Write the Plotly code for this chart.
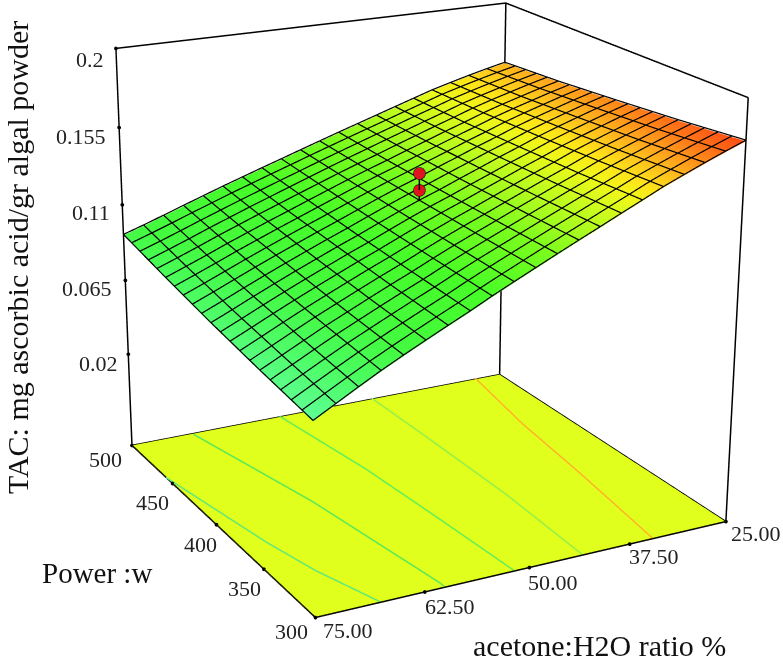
import numpy as np
import plotly.graph_objects as go

# values
acetone = [25, 27.5, 30, 32.5, 35, 37.5, 40, 42.5, 45, 47.5, 50, 52.5, 55, 57.5, 60, 62.5, 65, 67.5, 70, 72.5, 75]
power = [300, 350, 400, 450, 500]
tac_300 = [.1770, .1728, .1684, .1638, .1591, .1538, .1486, .1433, .1381, .1328, .1274, .1220, .1165, .1107, .1052, .0996, .0939, .0880, .0817, .0752, .0687]
tac_350 = [.1728, .1690, .1650, .1609, .1566, .1517, .1471, .1423, .1375, .1326, .1278, .1229, .1177, .1123, .1072, .1019, .0965, .0911, .0853, .0794, .0735]
tac_400 = [.1692, .1659, .1623, .1586, .1547, .1503, .1461, .1416, .1372, .1327, .1285, .1239, .1191, .1142, .1096, .1047, .0998, .0947, .0895, .0841, .0789]
tac_450 = [.1659, .1630, .1598, .1566, .1531, .1491, .1453, .1413, .1374, .1333, .1294, .1253, .1210, .1167, .1123, .1080, .1035, .0990, .0942, .0896, .0851]
tac_500 = [.1634, .1609, .1582, .1553, .1523, .1487, .1451, .1415, .1379, .1343, .1306, .1269, .1231, .1194, .1156, .1118, .1078, .1038, .0997, .0957, .0919]

design_tac = [.1442, .1347]
design_surface_tac = .1285

# contour lines on the floor: (acetone, power)
contour_a = [(75.1, 457), (72.1, 373), (70.4, 338), (67.7, 300)]
contour_b = [(67.3, 498), (63.1, 402), (60.2, 304), (60.2, 300)]
contour_c = [(55.8, 500), (53.7, 423), (52.7, 359), (51.9, 300)]
contour_d = [(43.2, 500), (43.0, 441), (42.9, 369), (43.5, 300)]
contour_e = [(28.5, 500), (30.8, 437), (32.4, 374), (34.6, 300)]
contour_colors = ["#62e878", "#58e858", "#62ee58", "#92f04a", "#ffb428"]

x_ticks = [75, 62.5, 50, 37.5, 25]
x_labels = ["75.00", "62.50", "50.00", "37.50", "25.00"]
y_ticks = [500, 450, 400, 350, 300]
z_ticks = [0.2, 0.155, 0.11, 0.065, 0.02]
z_labels = ["0.2", "0.155", "0.11", "0.065", "0.02"]
z_floor = -0.037
z_top = 0.2

# label offsets from their tick, in pixels
x_label_shift = [(32.5, -13), (25, -15), (23.5, -15), (24, -12), (30, -12)]
y_label_shift = [(-26, -14), (-20, -19), (-16, -20), (-19, -19), (-24, -14)]
z_label_shift = [(-10, -11), (-11, -9), (-10, -8), (-11, -8), (-8, -9)]

colour_stops = [
    (.0683, "rgb(95,255,150)"), (.0841, "rgb(75,252,95)"), (.0946, "rgb(68,250,65)"), (.1157, "rgb(70,252,40)"),
    (.1315, "rgb(120,252,30)"), (.1452, "rgb(195,252,30)"), (.1526, "rgb(238,248,25)"), (.1578, "rgb(255,228,25)"),
    (.1631, "rgb(255,185,30)"), (.1705, "rgb(255,125,25)"), (.1768, "rgb(255,78,20)"),
]

# plotly's field of view is fixed, so the long lens of the original needs a big
# canvas with only its middle part showing
W, H = 2373, 2000
OX, OY = (W - 783) // 2, (H - 660) // 2
FONT = "Liberation Serif"
PAD = 0.01  # keeps the frame lines inside the clip box
LIFT = 0.0006  # grid sits just above the surface


def px(x, y):
    return (x + OX) / W, 1 - (y + OY) / H


cmin, cmax = colour_stops[0][0], colour_stops[-1][0]
scale = [[(v - cmin) / (cmax - cmin), c] for v, c in colour_stops]
flip = [-a for a in acetone]  # scene x runs 75 -> 25
tac = np.array([tac_300, tac_350, tac_400, tac_450, tac_500])

fig = go.Figure()
fig.add_surface(
    x=[-75, -25], y=[300, 500], z=[[z_floor, z_floor], [z_floor, z_floor]],
    colorscale=[[0, "#e0ff1c"], [1, "#e0ff1c"]], showscale=False, hoverinfo="skip",
    lighting=dict(ambient=1, diffuse=0, specular=0, fresnel=0, roughness=1),
)
fig.add_surface(
    x=flip, y=power, z=tac.tolist(),
    colorscale=scale, cmin=cmin, cmax=cmax, showscale=False, hoverinfo="skip",
    lighting=dict(ambient=1, diffuse=0, specular=0, fresnel=0, roughness=1),
)

# mesh lines on the surface
gx, gy, gz = [], [], []
for i, a in enumerate(flip):
    gx += [a] * len(power) + [None]
    gy += power + [None]
    gz += list(tac[:, i] + LIFT) + [None]
for p in range(300, 501, 10):
    row = [np.interp(p, power, tac[:, i]) + LIFT for i in range(len(flip))]
    gx += flip + [None]
    gy += [p] * len(flip) + [None]
    gz += row + [None]
fig.add_scatter3d(x=gx, y=gy, z=gz, mode="lines", line=dict(color="black", width=2.4), hoverinfo="skip")

for pts, col in zip([contour_a, contour_b, contour_c, contour_d, contour_e], contour_colors):
    fig.add_scatter3d(x=[-p[0] for p in pts], y=[p[1] for p in pts], z=[z_floor + 0.0005] * len(pts),
                      mode="lines", line=dict(color=col, width=3), hoverinfo="skip")

# frame
fig.add_scatter3d(
    x=[-75, -25, -25, -75, -75, None, -75, -75, -25, -25, None, -25, -25, None, -25, -25],
    y=[300, 300, 500, 500, 300, None, 500, 500, 500, 300, None, 300, 300, None, 500, 500],
    z=[z_floor] * 5 + [None, z_floor, z_top, z_top, z_top, None, z_top, z_floor, None, z_top, z_floor],
    mode="lines", line=dict(color="black", width=3), hoverinfo="skip",
)
# tick dots
fig.add_scatter3d(
    x=[-a for a in x_ticks] + [-75] * len(y_ticks) + [-75] * len(z_ticks),
    y=[300] * len(x_ticks) + y_ticks + [500] * len(z_ticks),
    z=[z_floor] * (len(x_ticks) + len(y_ticks)) + z_ticks,
    mode="markers", marker=dict(color="black", size=2.2), hoverinfo="skip",
)
# design points and their stem
fig.add_scatter3d(x=[-50, -50], y=[400, 400], z=[design_surface_tac, max(design_tac)], mode="lines",
                  line=dict(color="black", width=3), hoverinfo="skip")
fig.add_scatter3d(x=[-50] * len(design_tac), y=[400] * len(design_tac), z=design_tac, mode="markers",
                  marker=dict(color="#e0141e", size=7, line=dict(color="black", width=1)), hoverinfo="skip")

tick_font = dict(family=FONT, size=22, color="#222222")
scene_notes = []
for v, t, s in zip(x_ticks, x_labels, x_label_shift):
    scene_notes.append(dict(x=-v, y=300, z=z_floor, text=t, showarrow=False, xshift=s[0], yshift=s[1], font=tick_font))
for v, s in zip(y_ticks, y_label_shift):
    scene_notes.append(dict(x=-75, y=v, z=z_floor, text=str(v), showarrow=False, xshift=s[0], yshift=s[1], font=tick_font))
for v, t, s in zip(z_ticks, z_labels, z_label_shift):
    scene_notes.append(dict(x=-75, y=500, z=v, text=t, showarrow=False, xanchor="right", xshift=s[0], yshift=s[1], font=tick_font))

notes = []
for text, x, y, size, angle in [
    ("TAC: mg ascorbic acid/gr algal powder", 18, 258, 30, -90),
    ("Power :w", 97.5, 573, 29, 0),
    ("acetone:H2O ratio %", 599, 645, 30, 0),
]:
    ax, ay = px(x, y)
    notes.append(dict(x=ax, y=ay, xref="paper", yref="paper", text=text, showarrow=False, textangle=angle,
                      font=dict(family=FONT, size=size, color="#111111")))

r = 1 + 2 * PAD
fig.update_layout(
    width=W, height=H, margin=dict(l=0, r=0, t=0, b=0), showlegend=False, paper_bgcolor="white",
    annotations=notes,
    scene=dict(
        domain=dict(x=[0, 1], y=[0, 1]),
        xaxis=dict(range=[-75 - 50 * PAD, -25 + 50 * PAD], visible=False),
        yaxis=dict(range=[300 - 200 * PAD, 500 + 200 * PAD], visible=False),
        zaxis=dict(range=[z_floor - (z_top - z_floor) * PAD, z_top + (z_top - z_floor) * PAD], visible=False),
        aspectmode="manual", aspectratio=dict(x=1.0432 * r, y=1.0425 * r, z=r),
        camera=dict(eye=dict(x=-2.4753, y=-4.6415, z=1.8287), center=dict(x=-0.1986, y=-0.2459, z=0),
                    up=dict(x=0.002, y=-0.002, z=1), projection=dict(type="perspective")),
        annotations=scene_notes,
    ),
)
fig.write_html("out.html", config=dict(displayModeBar=False),
               post_script="document.body.style.margin='0';document.body.style.overflow='hidden';"
                           "var g=document.getElementById('{plot_id}');g.style.position='absolute';"
                           f"g.style.left='{-OX}px';g.style.top='{-OY}px';")
